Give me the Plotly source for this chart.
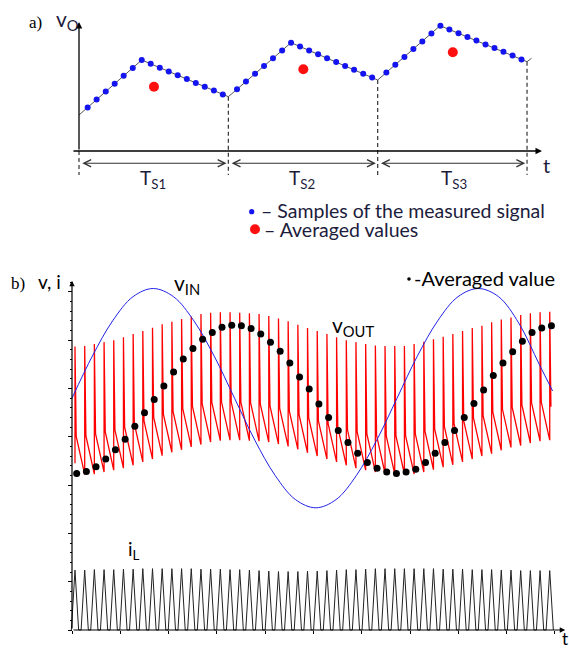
import plotly.graph_objects as go

W, H = 569, 648

# ---------------- panel a) data ----------------
# waveform vertices: t in switching periods, v in arbitrary units
a_vertex_t = [0.0, 0.42, 1.0, 1.42, 2.0, 2.418, 3.0, 3.03]
a_vertex_v = [3.6, 9.1, 5.43, 10.83, 7.1, 12.53, 8.93, 9.27]
a_sample_offsets = [0.058, 0.118, 0.179, 0.239, 0.299, 0.360, 0.420, 0.480,
                    0.541, 0.601, 0.661, 0.722, 0.782, 0.842, 0.903, 0.963]
a_samples_p1 = [4.36, 5.15, 5.94, 6.73, 7.52, 8.31, 9.10, 8.72, 8.33, 7.95, 7.57, 7.19, 6.81, 6.43, 6.04, 5.66]
a_samples_p2 = [6.18, 6.95, 7.73, 8.50, 9.27, 10.06, 10.83, 10.44, 10.05, 9.67, 9.28, 8.89, 8.50, 8.12, 7.72, 7.34]
a_samples_p3 = [7.85, 8.63, 9.41, 10.19, 10.96, 11.75, 12.53, 12.16, 11.78, 11.41, 11.04, 10.66, 10.29, 9.92, 9.55, 9.16]
a_avg_t = [0.502, 1.502, 2.503]
a_avg_v = [6.43, 8.17, 9.87]
a_period_edges = [0, 1, 2, 3]
a_period_labels = ["T<sub>S1</sub>", "T<sub>S2</sub>", "T<sub>S3</sub>"]
a_period_label_t = [0.496, 1.49, 2.51]

# ---------------- panel b) data ----------------
switch_t = [0.062, 0.263, 0.463, 0.664, 0.864, 1.065, 1.266, 1.466, 1.667, 1.867,
            2.068, 2.269, 2.469, 2.670, 2.870, 3.071, 3.272, 3.472, 3.673, 3.873,
            4.074, 4.275, 4.475, 4.676, 4.876, 5.077, 5.278, 5.478, 5.679, 5.879,
            6.080, 6.281, 6.481, 6.682, 6.882, 7.083, 7.284, 7.484, 7.685, 7.885,
            8.086, 8.287, 8.487, 8.688, 8.888, 9.089, 9.290, 9.490, 9.691, 9.891]
vout_start = 3.45
vout_top = [5.87, 5.88, 5.92, 5.96, 6.00, 6.06, 6.13, 6.19, 6.26, 6.33,
            6.38, 6.44, 6.49, 6.54, 6.57, 6.58, 6.58, 6.57, 6.56, 6.54,
            6.50, 6.45, 6.39, 6.32, 6.25, 6.19, 6.13, 6.06, 6.00, 5.96,
            5.92, 5.89, 5.88, 5.88, 5.88, 5.92, 5.97, 6.02, 6.07, 6.13,
            6.19, 6.25, 6.30, 6.37, 6.43, 6.47, 6.52, 6.56, 6.58, 6.59]
vout_knee = [4.01, 4.02, 4.06, 4.10, 4.14, 4.20, 4.27, 4.33, 4.40, 4.47,
             4.52, 4.58, 4.63, 4.68, 4.71, 4.72, 4.72, 4.71, 4.70, 4.68,
             4.64, 4.59, 4.53, 4.46, 4.39, 4.33, 4.27, 4.20, 4.14, 4.10,
             4.06, 4.03, 4.02, 4.02, 4.02, 4.06, 4.11, 4.16, 4.21, 4.27,
             4.33, 4.39, 4.44, 4.51, 4.57, 4.61, 4.66, 4.70, 4.72, 4.62]
vout_bottom = [3.22, 3.23, 3.27, 3.31, 3.35, 3.41, 3.48, 3.54, 3.61, 3.68,
               3.73, 3.79, 3.84, 3.89, 3.92, 3.93, 3.93, 3.92, 3.91, 3.89,
               3.85, 3.80, 3.74, 3.67, 3.60, 3.54, 3.48, 3.41, 3.35, 3.31,
               3.27, 3.24, 3.23, 3.23, 3.23, 3.27, 3.32, 3.37, 3.42, 3.48,
               3.54, 3.60, 3.65, 3.72, 3.78, 3.82, 3.87, 3.91, 3.93]
vavg = [3.24, 3.28, 3.38, 3.54, 3.73, 3.95, 4.22, 4.50, 4.77, 5.05,
        5.34, 5.61, 5.83, 6.02, 6.16, 6.27, 6.31, 6.30, 6.24, 6.13,
        5.96, 5.77, 5.53, 5.24, 4.99, 4.68, 4.40, 4.13, 3.88, 3.66,
        3.47, 3.35, 3.27, 3.24, 3.27, 3.33, 3.47, 3.66, 3.88, 4.13,
        4.40, 4.69, 4.97, 5.27, 5.53, 5.76, 5.98, 6.16, 6.25, 6.30]
iL_peak = [1.24, 1.24, 1.25, 1.25, 1.25, 1.26, 1.26, 1.27, 1.27, 1.27,
           1.27, 1.27, 1.27, 1.26, 1.26, 1.26, 1.25, 1.25, 1.24, 1.23,
           1.22, 1.21, 1.21, 1.21, 1.22, 1.22, 1.23, 1.24, 1.25, 1.25,
           1.26, 1.27, 1.27, 1.27, 1.27, 1.27, 1.27, 1.27, 1.26, 1.26,
           1.26, 1.25, 1.25, 1.25, 1.24, 1.24, 1.23, 1.23, 1.23, 1.23]
vin_t = [0.000, 0.421, 0.841, 1.262, 1.682, 2.103, 2.524, 2.944, 3.365, 3.785,
         4.206, 4.627, 5.047, 5.468, 5.888, 6.309, 6.730, 7.150, 7.571, 7.991,
         8.412, 8.833, 9.253, 9.674, 9.950]
vin_v = [4.80, 5.67, 6.40, 6.90, 7.07, 6.90, 6.40, 5.67, 4.80, 3.93,
         3.20, 2.70, 2.53, 2.70, 3.20, 3.93, 4.80, 5.67, 6.40, 6.90,
         7.07, 6.90, 6.35, 5.50, 4.95]
b_ytick_major = [0, 1, 2, 3, 4, 5, 6, 7]
b_xtick_major = [0, 1, 2, 3, 4, 5, 6, 7, 8, 9, 10]

# shape parameters (styling of the waveforms)
fall_dt = 0.025
il_half = 0.075
dot_dt = 0.035

# ---------------- build traces ----------------
sample_t, sample_v = [], []
for p, vals in enumerate([a_samples_p1, a_samples_p2, a_samples_p3]):
    sample_t += [p + o for o in a_sample_offsets]
    sample_v += vals

vo_x, vo_y = [], []
prev = vout_start
for k, t in enumerate(switch_t):
    vo_x += [t, t, t + fall_dt]
    vo_y += [prev, vout_top[k], vout_knee[k]]
    if k < len(vout_bottom):
        prev = vout_bottom[k]

il_x, il_y = [], []
for t, pk in zip(switch_t, iL_peak):
    il_x += [t - il_half, t, t + il_half]
    il_y += [0, pk, 0]

NAVY = "#1c1c3c"
FONT = "Lato, 'Open Sans', sans-serif"
SERIF = "'Liberation Serif', 'Times New Roman', serif"

fig = go.Figure()
# panel a
fig.add_trace(go.Scatter(x=a_vertex_t, y=a_vertex_v, mode="lines",
                         line=dict(color="#555555", width=1), xaxis="x", yaxis="y", hoverinfo="skip"))
fig.add_trace(go.Scatter(x=sample_t, y=sample_v, mode="markers",
                         marker=dict(color="#1414f0", size=6), xaxis="x", yaxis="y"))
fig.add_trace(go.Scatter(x=a_avg_t, y=a_avg_v, mode="markers",
                         marker=dict(color="#ff1010", size=10), xaxis="x", yaxis="y"))
# panel b
fig.add_trace(go.Scatter(x=il_x, y=il_y, mode="lines",
                         line=dict(color="#222222", width=1), xaxis="x2", yaxis="y2"))
fig.add_trace(go.Scatter(x=vo_x, y=vo_y, mode="lines",
                         line=dict(color="#ff0000", width=1.3), xaxis="x2", yaxis="y2"))
fig.add_trace(go.Scatter(x=vin_t, y=vin_v, mode="lines", line_shape="spline",
                         line=dict(color="#2020e6", width=1), xaxis="x2", yaxis="y2"))
fig.add_trace(go.Scatter(x=[t + dot_dt for t in switch_t], y=vavg, mode="markers",
                         marker=dict(color="black", size=7), xaxis="x2", yaxis="y2"))

def px2paper(x, y):
    return x / W, 1 - y / H

anns = []
def txt(text, x, y, size, xanchor="center", yanchor="middle", color=NAVY, family=FONT):
    px, py = px2paper(x, y)
    anns.append(dict(text=text, x=px, y=py, xref="paper", yref="paper", showarrow=False,
                     xanchor=xanchor, yanchor=yanchor, font=dict(size=size, color=color, family=family)))

def arrow(x0, y0, x1, y1, xr, yr, head=2, size=1.0, width=1.2, color="black", side="end"):
    anns.append(dict(text="", x=x1, y=y1, ax=x0, ay=y0, xref=xr, yref=yr, axref=xr, ayref=yr,
                     showarrow=True, arrowhead=head, startarrowhead=head, arrowside=side,
                     arrowsize=size, startarrowsize=size, arrowwidth=width, arrowcolor=color,
                     standoff=0, startstandoff=0))

# panel a axes
arrow(0, 0, 0, 12.9, "x", "y", head=2, size=1.0, width=1.3)
arrow(-0.047, 0, 3.10, 0, "x", "y", head=2, size=1.0, width=1.3)
# period double arrows
for i in range(3):
    arrow(a_period_edges[i] + 0.012, -1.23, a_period_edges[i + 1] - 0.012, -1.23, "x", "y",
          head=5, size=1.3, width=1.1, color="#333333", side="end+start")

shapes = []
dash_top = [0, a_vertex_v[2], a_vertex_v[4], a_vertex_v[6]]
for e, top in zip(a_period_edges, dash_top):
    shapes.append(dict(type="line", xref="x", yref="y", x0=e, x1=e, y0=top, y1=-2.4,
                       line=dict(color="#333333", width=1.2, dash="4px,3px")))

# panel a texts
txt("a)", 35, 22, 17, color="black", family=SERIF)
txt("v<sub>O</sub>", 54, 20, 21, xanchor="left")
for lab, t in zip(a_period_labels, a_period_label_t):
    txt(lab, 79 + t * 149.33, 179, 19)
txt("t", 546, 165, 20)
# legend of panel a
shapes.append(dict(type="circle", xref="paper", yref="paper",
                   x0=(251.7 - 2.6) / W, x1=(251.7 + 2.6) / W, y0=1 - (211.7 + 2.6) / H, y1=1 - (211.7 - 2.6) / H,
                   fillcolor="#1414f0", line=dict(width=0)))
shapes.append(dict(type="circle", xref="paper", yref="paper",
                   x0=(255 - 5) / W, x1=(255 + 5) / W, y0=1 - (229.3 + 5) / H, y1=1 - (229.3 - 5) / H,
                   fillcolor="#ff1010", line=dict(width=0)))
txt("– Samples of the measured signal", 259, 210, 19.5, xanchor="left")
txt("– Averaged values", 262, 229, 19.5, xanchor="left")

# panel b axes
arrow(0, 0, 0, 7.23, "x2", "y2", head=2, size=0.9, width=1.2)
arrow(0, 0, 10.21, 0, "x2", "y2", head=2, size=0.9, width=1.2)

# panel b texts
txt("b)", 18, 283, 17, color="black", family=SERIF)
txt("v, i", 36, 282, 19, xanchor="left", color="black")
txt("v<sub>IN</sub>", 172, 284, 21, xanchor="left", color="black")
txt("v<sub>OUT</sub>", 330, 326, 21, xanchor="left", color="black")
shapes.append(dict(type="circle", xref="paper", yref="paper",
                   x0=(409 - 1.8) / W, x1=(409 + 1.8) / W, y0=1 - (279 + 1.8) / H, y1=1 - (279 - 1.8) / H,
                   fillcolor="black", line=dict(width=0)))
txt("-Averaged value", 557, 278, 20, xanchor="right", color="black")
txt("i<sub>L</sub>", 126, 550, 19, xanchor="left", color="black")
txt("t", 565, 638, 17, color="black")

b_minor = [round(i * 0.2, 1) for i in range(37) if i % 5 != 0]

fig.update_layout(
    width=W, height=H, margin=dict(l=0, r=0, t=0, b=0),
    paper_bgcolor="white", plot_bgcolor="rgba(0,0,0,0)", showlegend=False,
    xaxis=dict(domain=[0, 1], range=[-0.529, 3.281], visible=False, fixedrange=True),
    yaxis=dict(domain=[0.6, 1], range=[-10.82, 15.1], visible=False, fixedrange=True),
    xaxis2=dict(domain=[0, 1], range=[-1.4907, 10.290], anchor="free", position=18 / H,
                showline=False, showgrid=False, zeroline=False, showticklabels=False,
                tickmode="array", tickvals=b_xtick_major, ticks="outside", ticklen=3,
                tickcolor="black", tickwidth=1, fixedrange=True),
    yaxis2=dict(domain=[0, 0.6], range=[-0.3727, 7.677], anchor="free", position=72 / W,
                showline=False, showgrid=False, zeroline=False, showticklabels=False,
                tickmode="array", tickvals=b_ytick_major, ticks="outside", ticklen=4,
                tickcolor="black", tickwidth=1, fixedrange=True,
                minor=dict(tickmode="array", tickvals=b_minor, ticks="outside", ticklen=2,
                           tickcolor="black", tickwidth=1)),
    annotations=anns, shapes=shapes,
)

fig.write_html("out.html", config={"displayModeBar": False},
               post_script="document.body.style.margin='0';document.body.style.overflow='hidden';")
